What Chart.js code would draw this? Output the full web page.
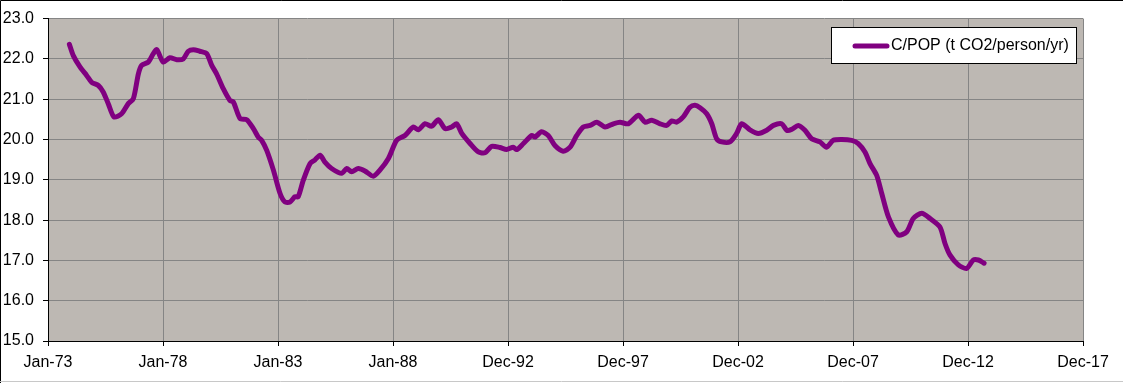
<!DOCTYPE html>
<html>
<head>
<meta charset="utf-8">
<script src="https://cdn.jsdelivr.net/npm/chart.js@4"></script>
<style>
    html, body { margin: 0; padding: 0; background: #fff; }
    #wrap { width: 1123px; height: 383px; position: relative; }
</style>
</head>
<body>
<div id="wrap"><canvas id="chart" width="1123" height="383"></canvas></div>
<script>
// decimal years and C/POP values
const years = [
    1973.93, 1974.10, 1974.39, 1974.68, 1974.90, 1975.19, 1975.40, 1975.62, 1975.87, 1976.20,
    1976.49, 1976.71, 1976.93, 1977.07, 1977.36, 1977.58, 1977.73, 1978.01, 1978.30, 1978.60,
    1978.88, 1979.10, 1979.32, 1979.60, 1979.90, 1980.12, 1980.33, 1980.62, 1980.91, 1981.06,
    1981.35, 1981.64, 1981.93, 1982.14, 1982.29, 1982.51, 1982.80, 1983.09, 1983.30, 1983.52,
    1983.74, 1983.88, 1984.10, 1984.39, 1984.60, 1984.83, 1985.04, 1985.33, 1985.77, 1985.99,
    1986.20, 1986.49, 1986.78, 1987.14, 1987.43, 1987.80, 1988.16, 1988.52, 1988.88, 1989.10,
    1989.39, 1989.68, 1989.97, 1990.26, 1990.55, 1990.77, 1990.99, 1991.35, 1991.71, 1992.00,
    1992.29, 1992.65, 1992.94, 1993.23, 1993.38, 1993.67, 1994.03, 1994.17, 1994.46, 1994.75,
    1995.04, 1995.40, 1995.70, 1995.99, 1996.27, 1996.57, 1996.86, 1997.22, 1997.58, 1997.87,
    1998.23, 1998.67, 1998.96, 1999.25, 1999.61, 1999.90, 2000.12, 2000.33, 2000.62, 2000.91,
    2001.13, 2001.35, 2001.64, 2001.86, 2002.07, 2002.29, 2002.65, 2002.94, 2003.16, 2003.52,
    2003.88, 2004.25, 2004.54, 2004.90, 2005.12, 2005.33, 2005.62, 2005.91, 2006.20, 2006.56,
    2006.85, 2007.14, 2007.51, 2007.94, 2008.23, 2008.52, 2008.74, 2009.03, 2009.25, 2009.54,
    2009.97, 2010.34, 2010.62, 2010.99, 2011.35, 2011.78, 2012.00, 2012.22, 2012.58, 2012.94,
    2013.23, 2013.45, 2013.70
];
const cpop = [
    22.36, 22.08, 21.80, 21.59, 21.42, 21.34, 21.18, 20.89, 20.56, 20.64,
    20.89, 21.01, 21.63, 21.84, 21.92, 22.13, 22.23, 21.92, 22.03, 21.98,
    22.00, 22.19, 22.23, 22.19, 22.13, 21.84, 21.63, 21.26, 20.97, 20.93,
    20.52, 20.49, 20.27, 20.06, 19.98, 19.73, 19.24, 18.66, 18.45, 18.45,
    18.58, 18.58, 18.99, 19.40, 19.49, 19.61, 19.44, 19.28, 19.16, 19.28,
    19.20, 19.28, 19.22, 19.09, 19.24, 19.53, 19.98, 20.10, 20.31, 20.24,
    20.39, 20.33, 20.49, 20.27, 20.31, 20.39, 20.15, 19.90, 19.69, 19.67,
    19.83, 19.80, 19.75, 19.81, 19.75, 19.90, 20.10, 20.06, 20.19, 20.10,
    19.85, 19.71, 19.81, 20.10, 20.31, 20.35, 20.43, 20.31, 20.39, 20.43,
    20.39, 20.60, 20.43, 20.48, 20.39, 20.35, 20.46, 20.43, 20.56, 20.80,
    20.85, 20.79, 20.64, 20.39, 20.02, 19.94, 19.94, 20.15, 20.39, 20.24,
    20.15, 20.23, 20.35, 20.39, 20.23, 20.25, 20.35, 20.23, 20.02, 19.94,
    19.81, 19.98, 20.00, 19.98, 19.90, 19.69, 19.40, 19.11, 18.66, 18.08,
    17.63, 17.71, 18.04, 18.17, 18.04, 17.83, 17.42, 17.13, 16.89, 16.80,
    17.01, 17.01, 16.93
];
const tickLabels = ["Jan-73", "Jan-78", "Jan-83", "Jan-88", "Dec-92", "Dec-97", "Dec-02", "Dec-07", "Dec-12", "Dec-17"];
const seriesLabel = "C/POP (t CO2/person/yr)";

const FONT = "'Liberation Sans', Arial, sans-serif";

const frame = {
    id: "frame",
    beforeDraw(chart) {
        const { ctx, chartArea: a } = chart;
        ctx.save();
        ctx.fillStyle = "#bdb8b3";
        ctx.fillRect(a.left, a.top, a.right - a.left, a.bottom - a.top);
        ctx.strokeStyle = "#000";
        ctx.lineWidth = 1;
        ctx.beginPath();
        ctx.moveTo(0.5, 383);
        ctx.lineTo(0.5, 0.5);
        ctx.lineTo(1123, 0.5);
        ctx.stroke();
        ctx.strokeStyle = "#c8c8c8";
        ctx.beginPath();
        ctx.moveTo(0, 381.5);
        ctx.lineTo(1123, 381.5);
        ctx.stroke();
        ctx.restore();
    },
    afterDraw(chart) {
        const { ctx } = chart;
        ctx.save();
        ctx.fillStyle = "#fff";
        ctx.fillRect(831, 27, 246, 37);
        ctx.strokeStyle = "#000";
        ctx.lineWidth = 1;
        ctx.strokeRect(831.5, 27.5, 245, 36);
        ctx.strokeStyle = "#800080";
        ctx.lineWidth = 5;
        ctx.lineCap = "round";
        ctx.beginPath();
        ctx.moveTo(855, 46);
        ctx.lineTo(887, 46);
        ctx.stroke();
        ctx.fillStyle = "#000";
        ctx.font = "16px " + FONT;
        ctx.textBaseline = "middle";
        ctx.fillText(seriesLabel, 891, 46);
        ctx.restore();
    }
};

const points = years.map((y, i) => ({ x: y, y: cpop[i] }));

new Chart(document.getElementById("chart"), {
    type: "line",
    data: {
        datasets: [{
            label: seriesLabel,
            data: points,
            borderColor: "#800080",
            borderWidth: 5,
            borderCapStyle: "round",
            borderJoinStyle: "round",
            pointRadius: 0,
            tension: 0.25,
            fill: false,
        }],
    },
    options: {
        responsive: false,
        animation: false,
        layout: { padding: { left: 0, right: 40, top: 18, bottom: 0 } },
        plugins: {
            legend: { display: false },
            tooltip: { enabled: false },
        },
        scales: {
            x: {
                type: "linear",
                min: 1973,
                max: 2018,
                afterFit: (s) => { s.height = 42; },
                afterBuildTicks: (s) => {
                    s.ticks = tickLabels.map((t, i) => ({ value: 1973 + 5 * i }));
                },
                ticks: {
                    autoSkip: false,
                    maxRotation: 0,
                    padding: 7,
                    color: "#000",
                    font: { family: FONT, size: 16 },
                    callback: (v, i) => tickLabels[i],
                },
                grid: { color: "#858585", tickColor: "#000", tickLength: 5, lineWidth: 1 },
                border: { color: "#000", width: 1 },
            },
            y: {
                min: 15,
                max: 23,
                afterFit: (s) => { s.width = 48; },
                ticks: {
                    stepSize: 1,
                    padding: 9,
                    color: "#000",
                    font: { family: FONT, size: 16 },
                    callback: (v) => v.toFixed(1),
                },
                grid: { color: "#858585", tickColor: "#000", tickLength: 5, lineWidth: 1 },
                border: { color: "#000", width: 1 },
            },
        },
    },
    plugins: [frame],
});
</script>
</body>
</html>
